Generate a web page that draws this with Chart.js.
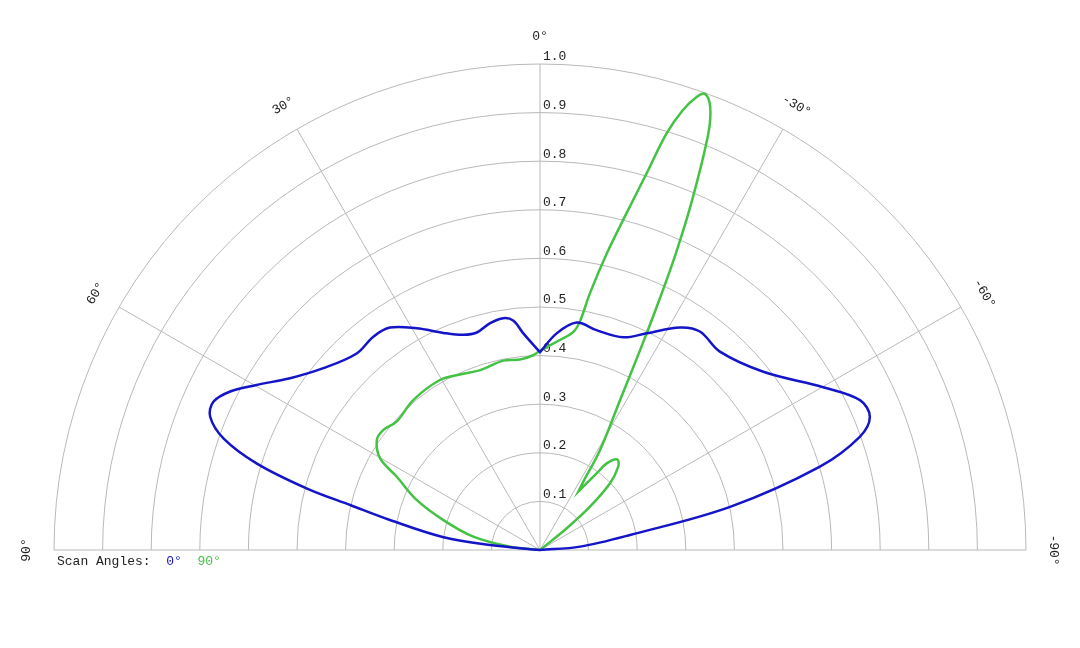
<!DOCTYPE html>
<html>
<head>
<meta charset="utf-8">
<title>Scan Angles</title>
<script src="https://cdn.jsdelivr.net/npm/chart.js@4.4.1/dist/chart.umd.min.js"></script>
<style>
    body { margin: 0; background: #ffffff; }
    #wrap { width: 1080px; height: 648px; position: relative; }
</style>
</head>
<body>
<div id="wrap"><canvas id="myChart"></canvas></div>
<script>
// angles in degrees (positive = left of broadside), gain normalised to 1.0
var scanLabels = ['0°', '90°'];
var scanColors = ['#1414c8', '#44c244'];

var blueAngles = [90, 84.3, 82.5, 78.7, 76.7, 75.2, 73.0, 70.6, 68.0, 65.6, 62.9, 59.8, 55.5, 50.0, 43.0, 38.0, 34.0, 29.1, 24.0, 19.6, 16.2, 12.4, 9.0, 6.6, 4.4, 0, 0,
    -4.4, -9.2, -14.4, -21.4, -26.2, -32.2, -36.2, -42.2, -51.4, -60.1, -64.9, -68.0, -70.5, -73.4, -77.2, -80.5, -85.2, -90];
var blueGain = [0, 0.103, 0.20, 0.315, 0.40, 0.497, 0.61, 0.69, 0.732, 0.738, 0.716, 0.675, 0.624, 0.582, 0.553, 0.557, 0.552, 0.522, 0.489, 0.470, 0.466, 0.478, 0.483, 0.475, 0.447, 0.407, 0.407,
    0.447, 0.474, 0.467, 0.470, 0.497, 0.541, 0.557, 0.551, 0.588, 0.672, 0.727, 0.732, 0.698, 0.601, 0.401, 0.188, 0.083, 0];

var greenAngles = [90, 83.7, 78.7, 72.8, 67.9, 62.9, 60.2, 56.0, 52.5, 48.2, 40.2, 30.5, 24.5, 18.4, 11.0, 6.0, 2.0, 0,
    -5.4, -8.7, -9.9, -11.0, -12.7, -14.4, -15.8, -16.9, -18.0, -19.1, -19.9, -21.0, -22.0, -23.5, -24.6, -25.5, -26.6, -28.1, -31.0, -32.3, -33.3, -33.3,
    -36.5, -37.6, -40.5, -43.2, -46.4, -49.1, -50.9, -52.0, -90];
var greenGain = [0, 0.062, 0.14, 0.208, 0.274, 0.331, 0.379, 0.405, 0.406, 0.396, 0.404, 0.406, 0.397, 0.390, 0.397, 0.394, 0.401, 0.41,
    0.434, 0.454, 0.477, 0.538, 0.626, 0.715, 0.805, 0.896, 0.952, 0.987, 0.998, 0.977, 0.925, 0.785, 0.672, 0.570, 0.460, 0.350, 0.240, 0.170, 0.144, 0.144,
    0.196, 0.225, 0.245, 0.235, 0.199, 0.136, 0.071, 0, 0];

var ringTicks = [0.1, 0.2, 0.3, 0.4, 0.5, 0.6, 0.7, 0.8, 0.9, 1.0];
var spokeAngles = [90, 60, 30, 0, -30, -60, -90];

var monoFont = '13px "Liberation Mono", "DejaVu Sans Mono", monospace';

// polar -> x/y in the chart's own units
function toXY(angles, gain) {
    var pts = [];
    for (var i = 0; i < angles.length; i++) {
        var a = angles[i] * Math.PI / 180;
        pts.push({x: -gain[i] * Math.sin(a), y: gain[i] * Math.cos(a)});
    }
    return pts;
}

var polarGrid = {
    id: 'polarGrid',
    beforeDatasetsDraw: function(chart) {
        var ctx = chart.ctx;
        var xs = chart.scales.x, ys = chart.scales.y;
        var cx = xs.getPixelForValue(0), cy = ys.getPixelForValue(0);
        var R = cy - ys.getPixelForValue(1);

        ctx.save();
        ctx.strokeStyle = '#b9b9b9';
        ctx.lineWidth = 1;
        ringTicks.forEach(function(t) {
            ctx.beginPath();
            ctx.arc(cx, cy, t * R, Math.PI, 2 * Math.PI);
            ctx.stroke();
        });
        spokeAngles.forEach(function(a) {
            var r = a * Math.PI / 180;
            ctx.beginPath();
            ctx.moveTo(cx, cy);
            ctx.lineTo(cx - R * Math.sin(r), cy - R * Math.cos(r));
            ctx.stroke();
        });

        ctx.fillStyle = '#222';
        ctx.font = monoFont;
        ctx.textAlign = 'left';
        ctx.textBaseline = 'middle';
        ringTicks.forEach(function(t) {
            ctx.fillText(t.toFixed(1), cx + 3, cy - t * R - 7);
        });

        ctx.textAlign = 'center';
        spokeAngles.forEach(function(a) {
            var r = a * Math.PI / 180;
            ctx.save();
            ctx.translate(cx - (R + 27) * Math.sin(r), cy - (R + 27) * Math.cos(r));
            ctx.rotate(-r);
            ctx.fillText(a + '°', 0, 0);
            ctx.restore();
        });
        ctx.restore();
    },
    afterDatasetsDraw: function(chart) {
        var ctx = chart.ctx;
        var x = 57, y = 562;
        ctx.save();
        ctx.font = monoFont;
        ctx.textAlign = 'left';
        ctx.textBaseline = 'middle';
        ctx.fillStyle = '#222';
        var s = 'Scan Angles:  ';
        ctx.fillText(s, x, y);
        x += ctx.measureText(s).width;
        chart.data.datasets.forEach(function(ds) {
            var t = ds.label + '  ';
            ctx.fillStyle = ds.borderColor;
            ctx.fillText(ds.label, x, y);
            x += ctx.measureText(t).width;
        });
        ctx.restore();
    }
};

var ctx = document.getElementById('myChart').getContext('2d');
var chart = new Chart(ctx, {
    type: 'scatter',
    data: {
        datasets: [{
            label: scanLabels[0],
            data: toXY(blueAngles, blueGain),
            borderColor: scanColors[0],
            borderWidth: 2.5,
            showLine: true,
            pointRadius: 0,
            tension: 0.35,
            clip: false
        }, {
            label: scanLabels[1],
            data: toXY(greenAngles, greenGain),
            borderColor: scanColors[1],
            borderWidth: 2.5,
            showLine: true,
            pointRadius: 0,
            tension: 0.35,
            clip: false
        }]
    },
    options: {
        responsive: true,
        maintainAspectRatio: false,
        animation: false,
        layout: {
            padding: {left: 54, right: 54, top: 64, bottom: 98}
        },
        scales: {
            x: {type: 'linear', min: -1, max: 1, display: false},
            y: {type: 'linear', min: 0, max: 1, display: false}
        },
        plugins: {
            legend: {display: false},
            tooltip: {enabled: false}
        }
    },
    plugins: [polarGrid]
});
</script>
</body>
</html>
